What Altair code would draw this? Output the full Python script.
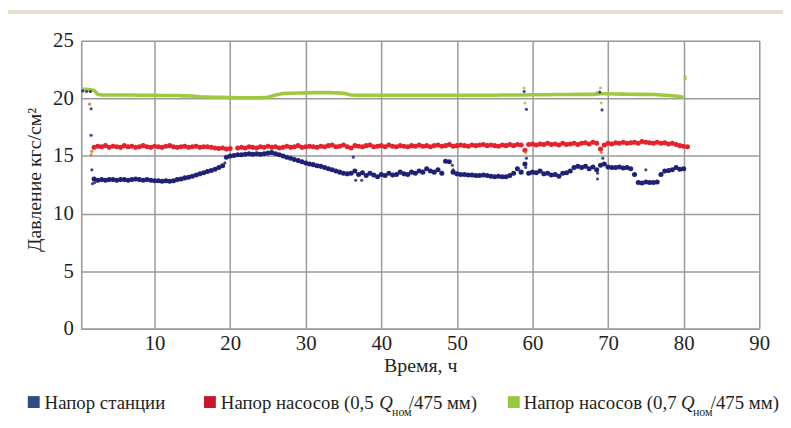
import altair as alt
import pandas as pd

# ---------------- data ----------------
# Напор станции, every 0.5 h from 2.0 h to 80.0 h
blue_p = [
    13.0, 12.9, 12.95, 12.9, 12.95, 12.95, 12.9, 12.95, 12.95, 12.9,
    12.95, 13.0, 12.95, 12.9, 12.95, 12.9, 12.85, 12.85, 12.8, 12.85,
    12.8, 12.85, 12.95, 13.0, 13.1, 13.15, 13.25, 13.35, 13.45, 13.55,
    13.65, 13.75, 13.85, 14.0, 14.15, 14.9, 15.0, 15.05, 15.1, 15.1,
    15.15, 15.2, 15.15, 15.2, 15.15, 15.2, 15.25, 15.3, 15.2, 15.1,
    15.0, 14.9, 14.8, 14.7, 14.6, 14.5, 14.4, 14.3, 14.25, 14.15,
    14.1, 14.0, 13.9, 13.8, 13.7, 13.6, 13.5, 13.45, 13.5, 13.7,
    13.4, 13.55, 13.3, 13.5, 13.35, 13.2, 13.4, 13.3, 13.5, 13.35,
    13.4, 13.6, 13.45, 13.4, 13.6, 13.5, 13.7, 13.6, 13.9, 13.7,
    13.6, 13.8, 13.5, 14.55, 14.5, 13.6, 13.45, 13.4, 13.4, 13.35,
    13.35, 13.3, 13.3, 13.35, 13.3, 13.25, 13.2, 13.25, 13.2, 13.2,
    13.3, 13.5, 13.9, 13.6, 14.3, 13.5, 13.6, 13.55, 13.7, 13.45,
    13.5, 13.35, 13.4, 13.25, 13.5, 13.55, 13.7, 14.0, 14.1, 14.0,
    14.1, 13.9, 14.05, 13.8, 14.2, 14.3, 14.05, 14.0, 14.0, 14.05,
    13.95, 14.0, 13.9, 13.4, 12.7, 12.65, 12.75, 12.7, 12.7, 12.75,
    13.4, 13.7, 13.75, 13.8, 14.0, 13.85, 13.9,
]
blue_t = [2.0 + 0.5 * i for i in range(len(blue_p))]

# Напор насосов (0,5 Qном/475 мм), every 0.5 h from 2.0 h to 80.5 h
red_p = [
    15.75, 15.85, 15.8, 15.9, 15.75, 15.85, 15.8, 15.75, 15.9, 15.8,
    15.85, 15.75, 15.8, 15.9, 15.8, 15.75, 15.85, 15.8, 15.75, 15.85,
    15.9, 15.8, 15.75, 15.8, 15.85, 15.75, 15.8, 15.85, 15.75, 15.8,
    15.8, 15.75, 15.7, 15.65, 15.7, 15.6, 15.65, None, 15.7, 15.75,
    15.7, 15.8, 15.75, 15.7, 15.8, 15.75, 15.85, 15.75, 15.8, 15.7,
    15.75, 15.85, 15.75, 15.8, 15.9, 15.75, 15.8, 15.85, 15.8, 15.75,
    15.85, 15.8, 15.9, 15.95, 15.8, 15.85, 15.95, 15.8, 15.7, 15.9,
    15.85, 15.8, 15.9, 15.95, 15.8, 15.85, 15.9, 15.8, 15.95, 15.85,
    15.8, 15.9, 15.85, 15.8, 15.9, 15.85, 15.95, 15.85, 15.9, 15.8,
    15.9, 15.95, 15.85, 15.9, 16.0, 15.85, 15.9, 15.95, 15.9, 15.85,
    15.95, 15.9, 15.95, 16.0, 15.9, 15.95, 15.9, 15.85, 15.95, 15.9,
    16.0, 15.9, 16.0, 15.95, 15.5, 16.0, 16.05, 15.95, 16.05, 16.0,
    16.1, 16.0, 16.05, 15.95, 16.1, 16.0, 16.05, 16.1, 16.0, 16.1,
    16.15, 16.05, 16.2, 16.1, 15.6, 15.95, 16.1, 16.05, 16.15, 16.1,
    16.2, 16.1, 16.15, 16.2, 16.1, 16.25, 16.2, 16.15, 16.1, 16.2,
    16.1, 16.15, 16.05, 16.1, 16.0, 15.9, 15.85, 15.8,
]
red_t = [2.0 + 0.5 * i for i in range(len(red_p))]

# Напор насосов (0,7 Qном/475 мм)
green_t = [0.5, 1.0, 1.5, 2.0, 2.5] + [float(h) for h in range(3, 81)]
green_p = [
    20.8, 20.8, 20.75, 20.7, 20.35,
    20.3, 20.3, 20.3, 20.3, 20.3, 20.28, 20.28, 20.28, 20.25, 20.25,
    20.25, 20.22, 20.2, 20.15, 20.12, 20.1, 20.1, 20.08, 20.05, 20.05,
    20.05, 20.05, 20.1, 20.3, 20.42, 20.45, 20.47, 20.48, 20.5, 20.5,
    20.5, 20.48, 20.45, 20.3, 20.28, 20.27, 20.27, 20.27, 20.27, 20.27,
    20.27, 20.27, 20.27, 20.27, 20.27, 20.27, 20.27, 20.27, 20.28, 20.28,
    20.28, 20.28, 20.28, 20.3, 20.3, 20.3, 20.3, 20.32, 20.32, 20.32,
    20.33, 20.33, 20.34, 20.35, 20.35, 20.35, 20.4, 20.4, 20.38, 20.37,
    20.36, 20.35, 20.35, 20.33, 20.3, 20.25, 20.2, 20.1,
]

# scattered single readings
blue_out_t = [0.5, 1.0, 1.5, 1.6, 1.6, 1.7, 1.8, 2.1, 19.3, 36.3, 36.6, 37.4,
              49.4, 49.5, 58.9, 59.2, 59.2, 59.1, 68.6, 68.6, 68.9, 69.2, 69.3, 75.0]
blue_out_p = [20.65, 20.6, 20.6, 19.1, 16.8, 13.8, 12.6, 12.7, 14.4, 14.9, 12.9, 12.9,
              14.2, 13.8, 20.6, 19.05, 14.8, 14.0, 13.5, 13.0, 20.55, 19.0, 14.8, 13.8]
green_out_t = [58.9, 59.0, 68.5, 69.0, 69.1, 80.2, 80.2]
green_out_p = [20.9, 19.6, 20.5, 20.9, 19.6, 21.9, 21.7]
red_out_t = [1.4, 1.6, 1.7, 59.1, 69.1]
red_out_p = [19.5, 15.1, 15.4, 15.3, 15.3]

x_ticks = [10, 20, 30, 40, 50, 60, 70, 80, 90]
y_ticks = [0, 5, 10, 15, 20, 25]

# ---------------- styling ----------------
FONT = "Liberation Serif"
TXT = "#231f20"
GRID = "#9a9a9a"
BLUE = "#1f2176"
RED = "#e3232c"
GREEN = "#9fca3e"
LEG_BLUE = "#2e4b85"
LEG_RED = "#c8162c"
LEG_GREEN = "#98c93c"
BEIGE = "#e6dfcd"

x_scale = alt.Scale(domain=[0.3, 90], nice=False, zero=False)
y_scale = alt.Scale(domain=[0, 25], nice=False)

axis_style = dict(grid=True, ticks=False, tickSize=0, labelOverlap=False, labelFlush=False,
                  labelFont=FONT, titleFont=FONT, labelColor=TXT, titleColor=TXT,
                  titleFontWeight="normal", domainColor=GRID, domainWidth=1.6,
                  gridColor=GRID, gridWidth=1.5)

x_axis = alt.Axis(values=x_ticks, title="Время, ч", labelPadding=21,
                  labelBaseline="alphabetic", labelFontSize=21,
                  titleBaseline="alphabetic", titleY=43, titleFontSize=20, **axis_style)
y_axis = alt.Axis(values=y_ticks, title="Давление кгс/см²", labelPadding=8, labelFontSize=21,
                  titleBaseline="alphabetic", titleX=-41, titleY=140, titleFontSize=20,
                  **axis_style)


def series_df(t, p):
    return pd.DataFrame({"t": t, "p": p})


def xy():
    return dict(x=alt.X("t:Q", scale=x_scale, axis=x_axis),
                y=alt.Y("p:Q", scale=y_scale, axis=y_axis))


one = pd.DataFrame({"k": [0]})

# thin beige band at the top, also fixes the chart's left/top extent
strip = alt.Chart(one).mark_rect(color=BEIGE).encode(
    x=alt.value(-74), x2=alt.value(709), y=alt.value(-31), y2=alt.value(-27))

green_line = alt.Chart(series_df(green_t, green_p)).mark_line(
    color=GREEN, strokeWidth=3.6, interpolate="linear").encode(**xy())
red_pts = alt.Chart(series_df(red_t, red_p)).mark_circle(
    color=RED, size=26, opacity=1).encode(**xy())
blue_pts = alt.Chart(series_df(blue_t, blue_p)).mark_circle(
    color=BLUE, size=26, opacity=1).encode(**xy())
green_out = alt.Chart(series_df(green_out_t, green_out_p)).mark_circle(
    color="#b5b04a", size=10, opacity=0.8).encode(**xy())
red_out = alt.Chart(series_df(red_out_t, red_out_p)).mark_circle(
    color="#e0702a", size=10, opacity=0.85).encode(**xy())
blue_out = alt.Chart(series_df(blue_out_t, blue_out_p)).mark_circle(
    color=BLUE, size=10, opacity=0.85).encode(**xy())


def square(x, color):
    return alt.Chart(one).mark_square(size=144, color=color, opacity=1).encode(
        x=alt.value(x), y=alt.value(365))


def label(x, y, text, size=19, italic=False):
    kw = dict(text=text, align="left", font=FONT, fontSize=size, color=TXT)
    if italic:
        kw["fontStyle"] = "italic"
    return alt.Chart(one).mark_text(**kw).encode(x=alt.value(x), y=alt.value(y))


# text marks are middle-baselined: y is the glyph centre line
legend = [
    square(-48, LEG_BLUE), label(-37, 366, "Напор станции"),
    square(130, LEG_RED), label(141, 366, "Напор насосов (0,5"),
    label(301, 366, "Q", italic=True), label(314, 375, "ном", size=12),
    label(331, 366, "/475 мм)"),
    square(437, LEG_GREEN), label(447, 366, "Напор насосов (0,7"),
    label(606, 366, "Q", italic=True), label(618, 375, "ном", size=12),
    label(636, 366, "/475 мм)"),
]

chart = alt.layer(
    strip, green_line, red_pts, blue_pts, green_out, red_out, blue_out, *legend
).properties(
    width=685, height=291, padding=0,
)

chart.save("out.html", embed_options={"renderer": "svg", "actions": False})
